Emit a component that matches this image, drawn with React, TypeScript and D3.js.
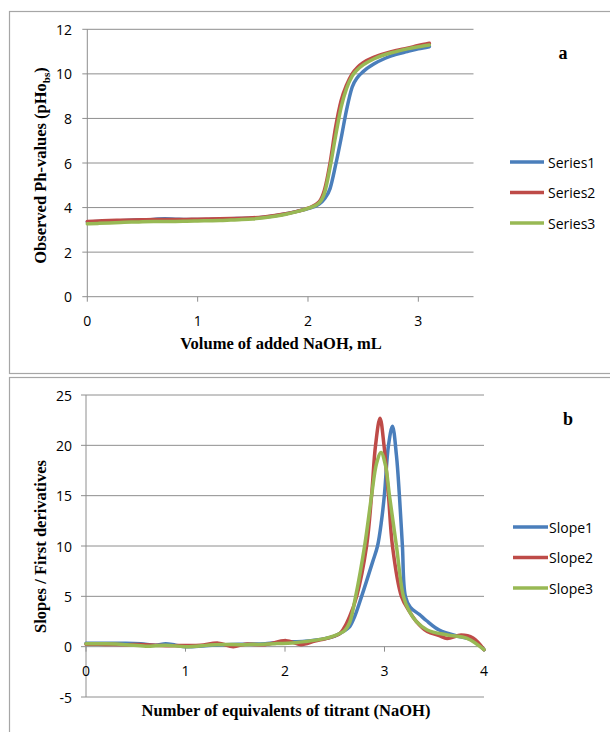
import * as d3 from 'd3'

// top panel: titration curves (pH vs volume of NaOH)
const volumes = [0, 0.1, 0.2, 0.3, 0.4, 0.5, 0.6, 0.7, 0.8, 0.9, 1.0, 1.1, 1.2, 1.3, 1.4, 1.5, 1.6, 1.7, 1.8, 1.9, 2.0, 2.1, 2.15, 2.2, 2.25, 2.3, 2.35, 2.4, 2.45, 2.5, 2.6, 2.7, 2.8, 2.9, 3.0, 3.1]
const series1 = [3.35, 3.37, 3.39, 3.41, 3.43, 3.45, 3.47, 3.5, 3.48, 3.46, 3.46, 3.47, 3.48, 3.5, 3.51, 3.53, 3.57, 3.63, 3.72, 3.83, 3.95, 4.15, 4.4, 4.85, 5.9, 7.1, 8.4, 9.4, 9.85, 10.1, 10.45, 10.7, 10.88, 11.0, 11.12, 11.22]
const series2 = [3.38, 3.4, 3.42, 3.43, 3.44, 3.45, 3.46, 3.46, 3.46, 3.47, 3.48, 3.49, 3.5, 3.51, 3.52, 3.54, 3.58, 3.64, 3.72, 3.83, 3.97, 4.25, 4.8, 6.0, 7.6, 8.8, 9.5, 10.0, 10.3, 10.5, 10.75, 10.92, 11.05, 11.15, 11.27, 11.37]
const series3 = [3.27, 3.29, 3.31, 3.33, 3.35, 3.36, 3.37, 3.38, 3.38, 3.39, 3.4, 3.41, 3.42, 3.44, 3.46, 3.49, 3.54, 3.61, 3.7, 3.82, 3.96, 4.2, 4.65, 5.8, 7.2, 8.5, 9.35, 9.9, 10.2, 10.4, 10.68, 10.87, 11.0, 11.12, 11.22, 11.3]
const seriesNames = ['Series1', 'Series2', 'Series3']
const phTicks = [0, 2, 4, 6, 8, 10, 12]
const volTicks = [0, 1, 2, 3]

// bottom panel: first derivatives vs equivalents
const slope1X = [0, 0.2, 0.4, 0.55, 0.7, 0.8, 0.9, 1.0, 1.2, 1.4, 1.6, 1.8, 2.0, 2.2, 2.4, 2.5, 2.6, 2.65, 2.7, 2.77, 2.88, 2.93, 2.97, 3.0, 3.04, 3.08, 3.12, 3.15, 3.18, 3.21, 3.26, 3.35, 3.42, 3.55, 3.75, 3.89, 4.0]
const slope1Y = [0.33, 0.33, 0.35, 0.3, 0.15, 0.3, 0.15, 0.0, 0.1, 0.2, 0.25, 0.3, 0.45, 0.55, 0.8, 1.05, 1.6, 2.0, 3.0, 5.0, 8.4, 10.0, 12.5, 15.2, 20.0, 21.9, 19.0, 15.0, 10.0, 5.0, 3.9, 3.2, 2.6, 1.65, 1.0, 0.66, -0.3]
const slope2X = [0, 0.2, 0.4, 0.6, 0.8, 1.0, 1.15, 1.33, 1.48, 1.6, 1.8, 2.01, 2.16, 2.3, 2.45, 2.55, 2.59, 2.65, 2.72, 2.82, 2.87, 2.91, 2.955, 2.995, 3.04, 3.08, 3.17, 3.25, 3.32, 3.43, 3.55, 3.63, 3.77, 3.89, 4.0]
const slope2Y = [0.25, 0.22, 0.2, 0.2, 0.1, 0.12, 0.15, 0.35, 0.0, 0.25, 0.2, 0.6, 0.2, 0.55, 0.9, 1.3, 1.8, 3.0, 5.0, 10.0, 15.0, 20.0, 22.7, 20.0, 15.0, 10.0, 5.0, 3.5, 2.5, 1.5, 1.1, 0.8, 1.15, 0.85, -0.3]
const slope3X = [0, 0.2, 0.4, 0.6, 0.8, 1.0, 1.3, 1.6, 1.9, 2.1, 2.2, 2.4, 2.5, 2.6, 2.65, 2.71, 2.8, 2.87, 2.92, 2.965, 3.01, 3.05, 3.12, 3.19, 3.25, 3.32, 3.43, 3.63, 3.83, 4.0]
const slope3Y = [0.3, 0.28, 0.2, 0.05, 0.15, 0.0, 0.2, 0.2, 0.3, 0.4, 0.5, 0.8, 1.1, 1.6, 2.4, 5.0, 10.0, 15.0, 18.2, 19.3, 18.0, 15.0, 10.0, 5.0, 3.5, 2.5, 1.66, 1.16, 0.83, -0.3]
const slopeNames = ['Slope1', 'Slope2', 'Slope3']
const slopeTicks = [-5, 0, 5, 10, 15, 20, 25]
const eqTicks = [0, 1, 2, 3, 4]

const colors = ['#4a7ebb', '#be4b48', '#98b954']
const gridColor = '#8e8e8e'
const tickFont = "'Open Sans', sans-serif"
const titleFont = "'Liberation Serif', 'Times New Roman', serif"

export default function App() {
    // top scales
    const xTop = d3.scaleLinear().domain([0, 3.5]).range([87.3, 473.5])
    const yTop = d3.scaleLinear().domain([0, 12]).range([296.7, 29.3])
    // bottom scales
    const xBot = d3.scaleLinear().domain([0, 4]).range([86, 484])
    const yBot = d3.scaleLinear().domain([-5, 25]).range([697, 395])

    const lineTop = d3.line<number>()
        .x((d, i) => xTop(volumes[i]))
        .y(d => yTop(d))
        .curve(d3.curveMonotoneX)

    const lineBot = d3.line<[number, number]>()
        .x(d => xBot(d[0]))
        .y(d => yBot(d[1]))
        .curve(d3.curveCatmullRom.alpha(0.5))

    const topSeries = [series1, series2, series3]
    const botSeries = [
        slope1X.map((x, i) => [x, slope1Y[i]] as [number, number]),
        slope2X.map((x, i) => [x, slope2Y[i]] as [number, number]),
        slope3X.map((x, i) => [x, slope3Y[i]] as [number, number]),
    ]

    return (
        <svg width={610} height={732} style={{ position: 'absolute', left: 0, top: 0, background: '#fff' }}>
            {/* panel frames */}
            <rect x={9.5} y={11.5} width={700} height={362} fill='none' stroke='#a6a6a6' strokeWidth={1.2} />
            <rect x={9.5} y={377.5} width={700} height={400} fill='none' stroke='#a6a6a6' strokeWidth={1.2} />

            {/* ---------- top chart ---------- */}
            <g>
                {phTicks.map(t => (
                    <g key={'gt' + t}>
                        <line x1={xTop(0) - 5} x2={xTop(3.5)} y1={yTop(t)} y2={yTop(t)} stroke={gridColor} strokeWidth={1} />
                        <text x={72} y={yTop(t)} textAnchor='end' dominantBaseline='central' fontFamily={tickFont} fontSize={14} fill='#000'>{t}</text>
                    </g>
                ))}
                <line x1={xTop(0)} x2={xTop(0)} y1={yTop(12)} y2={yTop(0)} stroke={gridColor} strokeWidth={1} />
                {volTicks.map(t => (
                    <g key={'vt' + t}>
                        <line x1={xTop(t)} x2={xTop(t)} y1={yTop(0)} y2={yTop(0) + 5} stroke={gridColor} strokeWidth={1} />
                        <text x={xTop(t)} y={320} textAnchor='middle' dominantBaseline='central' fontFamily={tickFont} fontSize={14} fill='#000'>{t}</text>
                    </g>
                ))}
                {topSeries.map((s, i) => (
                    <path key={'ts' + i} d={lineTop(s) ?? ''} fill='none' stroke={colors[i]} strokeWidth={3.5} strokeLinejoin='round' strokeLinecap='round' />
                ))}
                <text x={281} y={349} textAnchor='middle' fontFamily={titleFont} fontWeight='bold' fontSize={16.5}>Volume of added NaOH,  mL</text>
                <text transform='translate(46,165.5) rotate(-90)' textAnchor='middle' fontFamily={titleFont} fontWeight='bold' fontSize={16.5}>
                    Observed Ph-values (pHo<tspan dy={4} fontSize={11}>bs</tspan><tspan dy={-4}>)</tspan>
                </text>
                <text x={563} y={59} textAnchor='middle' fontFamily={titleFont} fontWeight='bold' fontSize={18}>a</text>
                {seriesNames.map((n, i) => (
                    <g key={'lg' + i}>
                        <line x1={510} x2={544} y1={162 + i * 30.5} y2={162 + i * 30.5} stroke={colors[i]} strokeWidth={3.5} />
                        <text x={548} y={162 + i * 30.5} dominantBaseline='central' fontFamily={tickFont} fontSize={14}>{n}</text>
                    </g>
                ))}
            </g>

            {/* ---------- bottom chart ---------- */}
            <g>
                {slopeTicks.map(t => (
                    <g key={'gs' + t}>
                        <line x1={xBot(0) - 5} x2={xBot(4)} y1={yBot(t)} y2={yBot(t)} stroke={gridColor} strokeWidth={1} />
                        <text x={72} y={yBot(t)} textAnchor='end' dominantBaseline='central' fontFamily={tickFont} fontSize={14} fill='#000'>{t}</text>
                    </g>
                ))}
                <line x1={xBot(0)} x2={xBot(0)} y1={yBot(25)} y2={yBot(-5)} stroke={gridColor} strokeWidth={1} />
                {eqTicks.map(t => (
                    <g key={'et' + t}>
                        <line x1={xBot(t)} x2={xBot(t)} y1={yBot(0)} y2={yBot(0) + 5} stroke={gridColor} strokeWidth={1} />
                        <text x={xBot(t)} y={670} textAnchor='middle' dominantBaseline='central' fontFamily={tickFont} fontSize={14} fill='#000'>{t}</text>
                    </g>
                ))}
                {botSeries.map((s, i) => (
                    <path key={'bs' + i} d={lineBot(s) ?? ''} fill='none' stroke={colors[i]} strokeWidth={3.5} strokeLinejoin='round' strokeLinecap='round' />
                ))}
                <text x={286} y={716} textAnchor='middle' fontFamily={titleFont} fontWeight='bold' fontSize={16.5}>Number of equivalents of titrant  (NaOH)</text>
                <text transform='translate(46,546.5) rotate(-90)' textAnchor='middle' fontFamily={titleFont} fontWeight='bold' fontSize={16.5}>Slopes / First derivatives</text>
                <text x={568} y={425} textAnchor='middle' fontFamily={titleFont} fontWeight='bold' fontSize={18}>b</text>
                {slopeNames.map((n, i) => (
                    <g key={'ls' + i}>
                        <line x1={513} x2={548} y1={527 + i * 30.5} y2={527 + i * 30.5} stroke={colors[i]} strokeWidth={3.5} />
                        <text x={549} y={527 + i * 30.5} dominantBaseline='central' fontFamily={tickFont} fontSize={14}>{n}</text>
                    </g>
                ))}
            </g>
        </svg>
    )
}
